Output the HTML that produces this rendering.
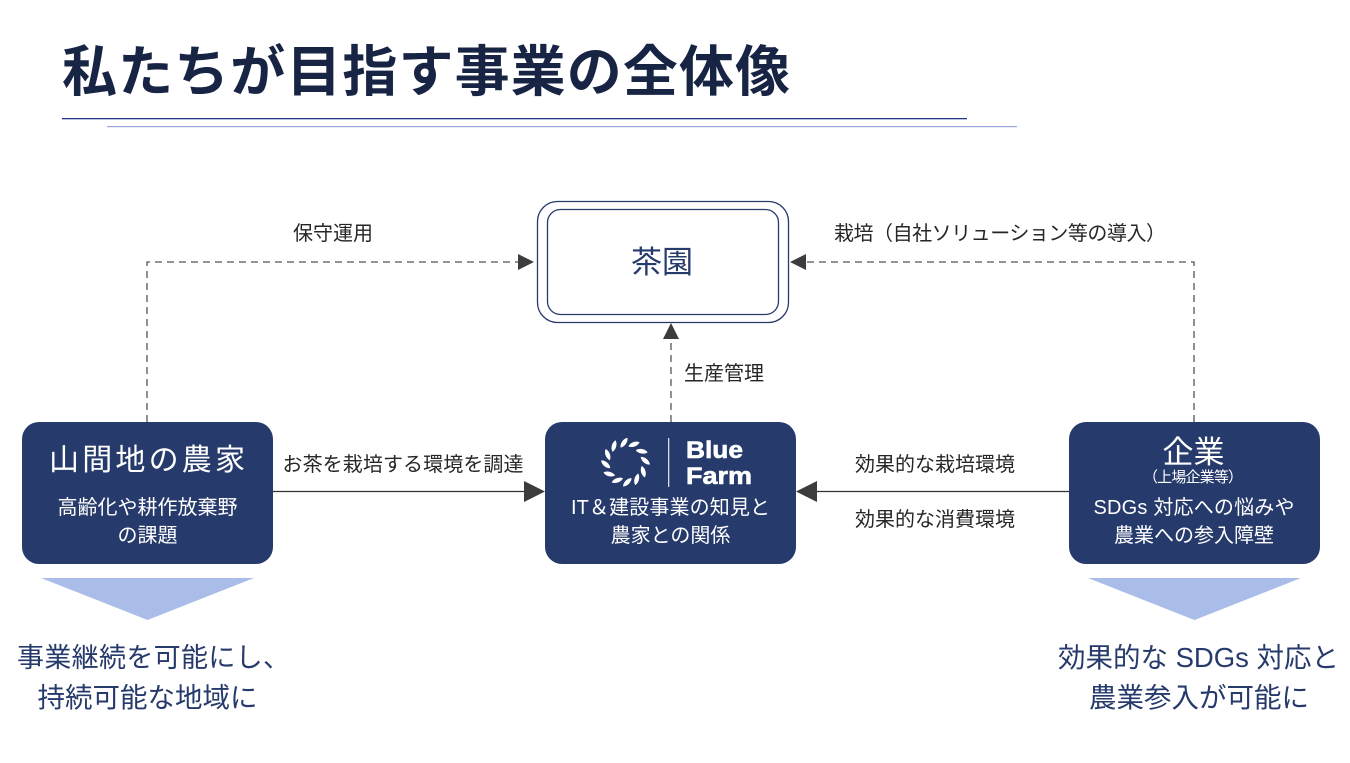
<!DOCTYPE html>
<html lang="ja"><head><meta charset="utf-8">
<style>
html,body{margin:0;padding:0;background:#fff;width:1350px;height:763px;overflow:hidden}
svg{display:block}
text{font-family:"Liberation Sans","Noto Sans CJK JP",sans-serif}
.w{fill:#fff;text-anchor:middle}
.b{fill:#263a6b;text-anchor:middle}
.k{fill:#262626;font-size:20px;text-anchor:middle}
.d{fill:none;stroke:#555;stroke-width:1.3;stroke-dasharray:7 5}
</style></head><body>
<svg width="1350" height="763" viewBox="0 0 1350 763" xmlns="http://www.w3.org/2000/svg">
<defs><path id="lf" d="M0 -6C3 -3 3 3 0 6C-3 3 -3 -3 0 -6Z" fill="#fff"/></defs>
<text x="62" y="91" font-size="55" font-weight="700" fill="#172444" textLength="728" lengthAdjust="spacing">私たちが目指す事業の全体像</text>
<rect x="62" y="118" width="905" height="1.3" fill="#27348b"/>
<rect x="107" y="126" width="910" height="1.2" fill="#9aa5dc"/>

<rect x="537.5" y="201.5" width="251" height="121" rx="20" fill="#fff" stroke="#263a6b" stroke-width="1.3"/>
<rect x="547.5" y="209.5" width="231" height="105" rx="13" fill="#fff" stroke="#263a6b" stroke-width="1.3"/>
<text class="b" x="662" y="273" font-size="31">茶園</text>

<path class="d" d="M147 422V262H520"/>
<path d="M534 262L518 254V270Z" fill="#3c3c3c"/>
<path class="d" d="M1194 422V262H805"/>
<path d="M790 262L806 254V270Z" fill="#3c3c3c"/>
<path class="d" d="M671 422V338"/>
<path d="M671 323L663 339H679Z" fill="#3c3c3c"/>
<path d="M273 491.500H526" stroke="#333" stroke-width="1.3" fill="none"/>
<path d="M545 491.500L524 481V502Z" fill="#3c3c3c"/>
<path d="M1069 491.500H816" stroke="#333" stroke-width="1.3" fill="none"/>
<path d="M796 491.500L817 481V502Z" fill="#3c3c3c"/>

<text class="k" x="333" y="240">保守運用</text>
<text class="k" x="1000" y="240" textLength="332" lengthAdjust="spacing">栽培（自社ソリューション等の導入）</text>
<text class="k" x="724" y="380">生産管理</text>
<text class="k" x="403" y="471" textLength="241" lengthAdjust="spacing">お茶を栽培する環境を調達</text>
<text class="k" x="935" y="471">効果的な栽培環境</text>
<text class="k" x="935" y="526">効果的な消費環境</text>

<rect x="22" y="422" width="251" height="142" rx="17" fill="#263a6b"/>
<rect x="545" y="422" width="251" height="142" rx="17" fill="#263a6b"/>
<rect x="1069" y="422" width="251" height="142" rx="17" fill="#263a6b"/>

<text class="w" x="147" y="470" font-size="30" textLength="196" lengthAdjust="spacing">山間地の農家</text>
<text class="w" x="147.500" y="514" font-size="20">高齢化や耕作放棄野</text>
<text class="w" x="147.500" y="542" font-size="20">の課題</text>

<use href="#lf" transform="translate(614 446) rotate(15)"/>
<use href="#lf" transform="translate(624 442.700) rotate(35)"/>
<use href="#lf" transform="translate(634 444.300) rotate(70)"/>
<use href="#lf" transform="translate(641.700 451.300) rotate(100)"/>
<use href="#lf" transform="translate(645.300 460.700) rotate(130)"/>
<use href="#lf" transform="translate(643.300 471.700) rotate(165)"/>
<use href="#lf" transform="translate(636.700 479.300) rotate(195)"/>
<use href="#lf" transform="translate(627.300 482.300) rotate(225)"/>
<use href="#lf" transform="translate(617.300 480.300) rotate(250)"/>
<use href="#lf" transform="translate(609.300 474) rotate(285)"/>
<use href="#lf" transform="translate(605.700 464.300) rotate(310)"/>
<use href="#lf" transform="translate(607.700 454.700) rotate(340)"/>
<rect x="668" y="438" width="1.300" height="49" fill="#d8dde8"/>
<text x="686" y="458" font-size="24" font-weight="700" fill="#fff" stroke="#fff" stroke-width="0.6" textLength="57" lengthAdjust="spacingAndGlyphs">Blue</text>
<text x="686" y="484" font-size="24" font-weight="700" fill="#fff" stroke="#fff" stroke-width="0.6" textLength="66" lengthAdjust="spacingAndGlyphs">Farm</text>
<text class="w" x="670.500" y="514" font-size="20" textLength="199" lengthAdjust="spacing">IT＆建設事業の知見と</text>
<text class="w" x="670.500" y="542" font-size="20">農家との関係</text>

<text class="w" x="1193.500" y="463" font-size="31">企業</text>
<text class="w" x="1193" y="482" font-size="15" textLength="100" lengthAdjust="spacing">（上場企業等）</text>
<text class="w" x="1194" y="514" font-size="20" textLength="201" lengthAdjust="spacing">SDGs 対応への悩みや</text>
<text class="w" x="1194" y="542" font-size="20">農業への参入障壁</text>

<path d="M41 578H254L147.500 620Z" fill="#a9bde8"/>
<path d="M1088 578H1301L1194.500 620Z" fill="#a9bde8"/>

<text class="b" x="153.500" y="667" font-size="27" textLength="273" lengthAdjust="spacing">事業継続を可能にし、</text>
<text class="b" x="147.500" y="707" font-size="27.500">持続可能な地域に</text>
<text class="b" x="1198.500" y="667" font-size="27.500" textLength="281" lengthAdjust="spacing">効果的な SDGs 対応と</text>
<text class="b" x="1199" y="707" font-size="27.500">農業参入が可能に</text>
</svg>
</body></html>
